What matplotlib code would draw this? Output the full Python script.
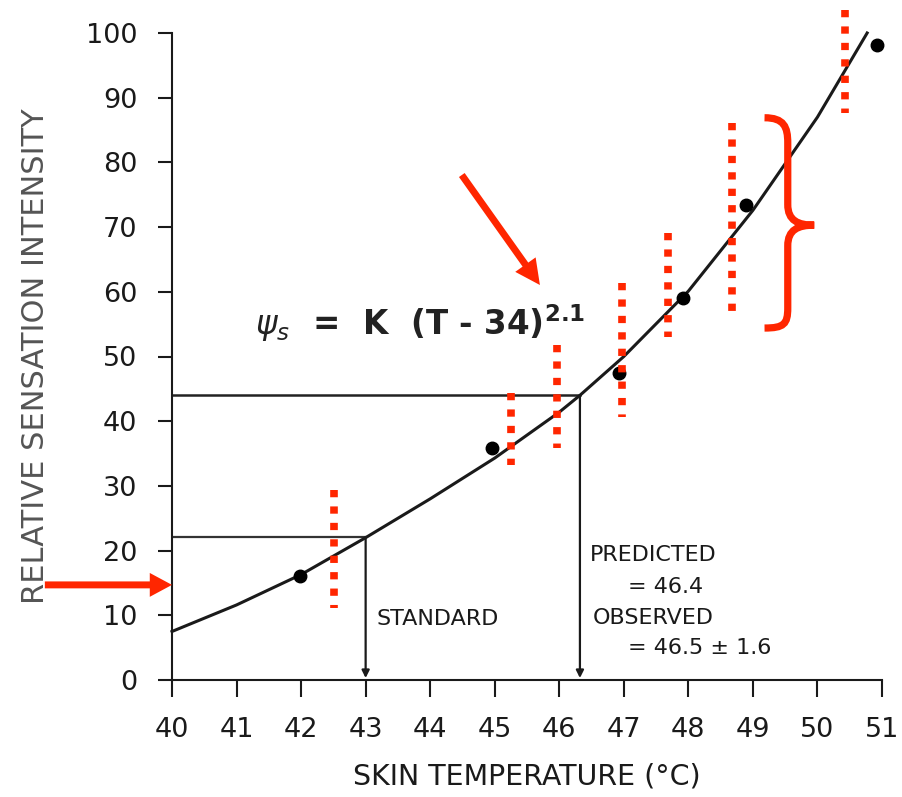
import numpy as np
import matplotlib.pyplot as plt
from matplotlib.path import Path
from matplotlib.patches import PathPatch

# curva dibujada
curva_t = [40, 41, 42, 43, 44, 45, 46, 46.32, 47, 48, 49, 50, 50.77]
curva_y = [7.5, 11.6, 16.3, 22.0, 28.0, 34.3, 41.4, 44.0, 50.0, 60.1, 72.6, 87.0, 100]

# puntos observados
pts_t = [41.98, 44.95, 46.92, 47.92, 48.90, 50.92]
pts_y = [16.0, 35.8, 47.5, 59.1, 73.4, 98.2]

# segmentos rojos punteados (x, arriba, abajo)
rojo_t = [42.51, 45.25, 45.96, 46.97, 47.69, 48.68, 50.42]
rojo_arriba = [29.4, 44.4, 51.8, 61.4, 69.1, 86.1, 103.6]
rojo_abajo = [11.1, 33.2, 35.9, 40.7, 53.0, 55.6, 87.6]

# estandar y prediccion
std_t, std_y = 43.0, 22.1
pred_t, pred_y = 46.32, 44.0

x_ticks = list(range(40, 52))
y_ticks = list(range(0, 101, 10))

ROJO = '#ff2600'
NEGRO = '#1a1a1a'

fig = plt.figure(figsize=(9.03, 7.97), dpi=100)
ax = fig.add_axes([172/903, 1-680/797, 710/903, 647/797])

ax.set_xlim(40, 51)
ax.set_ylim(0, 100)
for s in ['top', 'right']:
    ax.spines[s].set_visible(False)
for s in ['left', 'bottom']:
    ax.spines[s].set_linewidth(1.5)
    ax.spines[s].set_color(NEGRO)

ax.set_xticks(x_ticks)
ax.set_yticks(y_ticks)
ax.tick_params(axis='x', length=12.5, width=1.5, pad=14, labelsize=19.5, colors=NEGRO)
ax.tick_params(axis='y', length=10, width=1.5, pad=15, labelsize=19.5, colors=NEGRO)

ax.set_xlabel('SKIN TEMPERATURE (°C)', fontsize=20.5, color=NEGRO)
ax.xaxis.set_label_coords(0.5, -0.127)
ax.set_ylabel('RELATIVE SENSATION INTENSITY', fontsize=22, color='#555555')
ax.yaxis.set_label_coords(-0.172, 0.5)

# curva y puntos
ax.plot(curva_t, curva_y, color=NEGRO, lw=2.2, clip_on=False, zorder=3)
ax.plot(pts_t, pts_y, 'o', color='black', ms=9, clip_on=False, zorder=4)

# lineas de referencia
ax.plot([40, std_t], [std_y, std_y], color='#333333', lw=1.6)
ax.plot([40, pred_t], [pred_y, pred_y], color='#222222', lw=1.8)
for t, y in [(std_t, std_y), (pred_t, pred_y)]:
    ax.annotate('', xy=(t, 0.3), xytext=(t, y),
                arrowprops=dict(arrowstyle='-|>', color=NEGRO, lw=1.6,
                                mutation_scale=11, shrinkA=0, shrinkB=0))

# textos
ax.text(43.17, 9.4, 'STANDARD', fontsize=16, va='center', color=NEGRO)
ax.text(46.47, 19.3, 'PREDICTED', fontsize=16, va='center', color=NEGRO)
ax.text(47.06, 14.4, '= 46.4', fontsize=16, va='center', color=NEGRO)
ax.text(46.52, 9.6, 'OBSERVED', fontsize=16, va='center', color=NEGRO)
ax.text(47.06, 4.9, '= 46.5 ± 1.6', fontsize=16, va='center', color=NEGRO)
ax.text(41.28, 53.3, r'$\psi_s$  =  K  (T - 34)$^{\mathbf{2.1}}$', fontsize=23.5,
        fontweight='bold', va='baseline', color='#222222')

# marcas rojas
for t, a, b in zip(rojo_t, rojo_arriba, rojo_abajo):
    ax.plot([t, t], [a, b], color=ROJO, lw=5.5, linestyle=(0, (0.95, 1.2)),
            dash_capstyle='butt', clip_on=False, zorder=5)

ax.annotate('', xy=(40.0, 14.7), xytext=(38.03, 14.7), annotation_clip=False,
            arrowprops=dict(arrowstyle='simple,head_length=0.8,head_width=0.86,tail_width=0.25',
                            color=ROJO, lw=0, mutation_scale=20, shrinkA=0, shrinkB=0))
ax.annotate('', xy=(45.70, 61.05), xytext=(44.49, 78.05), annotation_clip=False,
            arrowprops=dict(arrowstyle='simple,head_length=0.9,head_width=0.9,tail_width=0.25',
                            color=ROJO, lw=0, mutation_scale=20, shrinkA=0, shrinkB=0))

# llave
llave = [(49.18, 86.9), (49.48, 86.9), (49.54, 85.5), (49.54, 83.0),
         (49.54, 73.5),
         (49.54, 71.0), (49.70, 70.3), (49.95, 70.3),
         (49.70, 70.3), (49.54, 69.6), (49.54, 67.1),
         (49.54, 57.5),
         (49.54, 55.0), (49.48, 54.4), (49.18, 54.4)]
codigos = [Path.MOVETO, Path.CURVE4, Path.CURVE4, Path.CURVE4, Path.LINETO,
           Path.CURVE4, Path.CURVE4, Path.CURVE4, Path.CURVE4, Path.CURVE4, Path.CURVE4,
           Path.LINETO, Path.CURVE4, Path.CURVE4, Path.CURVE4]
ax.add_patch(PathPatch(Path(llave, codigos), fill=False, edgecolor=ROJO, lw=5.2,
                       capstyle='butt', clip_on=False, zorder=5))

fig.savefig('out.png', dpi=100)
